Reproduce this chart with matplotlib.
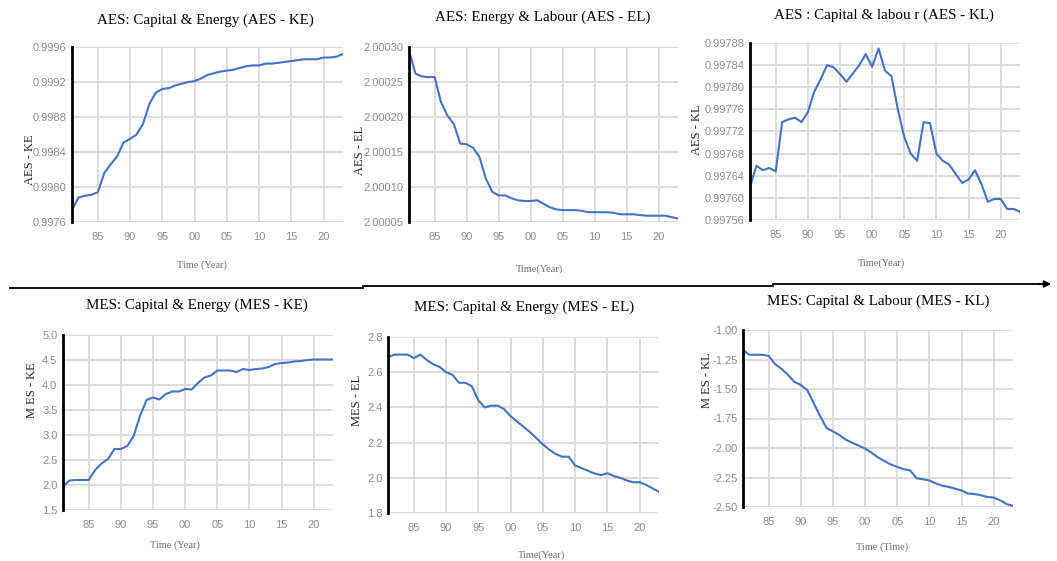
import matplotlib
matplotlib.use("Agg")
import matplotlib.pyplot as plt
from matplotlib.lines import Line2D
from matplotlib.patches import FancyArrowPatch
from matplotlib.ticker import FormatStrFormatter

W, H = 1057, 561

years = list(range(1981, 2024))
xtick_years = [1985, 1990, 1995, 2000, 2005, 2010, 2015, 2020]
xtick_labels = ["85", "90", "95", "00", "05", "10", "15", "20"]

aes_ke = [0.99774, 0.99788, 0.99790, 0.99791, 0.99794, 0.99816, 0.99826, 0.99835, 0.99851, 0.99855,
          0.99860, 0.99872, 0.99895, 0.99908, 0.99912, 0.99913, 0.99916, 0.99918, 0.99920, 0.99921,
          0.99924, 0.99928, 0.99930, 0.99932, 0.99933, 0.99934, 0.99936, 0.99938, 0.99939, 0.99939,
          0.99941, 0.99941, 0.99942, 0.99943, 0.99944, 0.99945, 0.99946, 0.99946, 0.99946, 0.99948,
          0.99948, 0.99949, 0.99952]

aes_el = [2.000295, 2.000262, 2.000258, 2.000257, 2.000257, 2.000221, 2.000202, 2.000190, 2.000162, 2.000161,
          2.000156, 2.000143, 2.000112, 2.000093, 2.000088, 2.000088, 2.000084, 2.000081, 2.000080, 2.000080,
          2.000081, 2.000076, 2.000071, 2.000068, 2.000067, 2.000067, 2.000067, 2.000066, 2.000064, 2.000064,
          2.000064, 2.000064, 2.000063, 2.000061, 2.000061, 2.000061, 2.000060, 2.000059, 2.000059, 2.000059,
          2.000059, 2.000057, 2.000055]

aes_kl = [0.997620, 0.997658, 0.997650, 0.997654, 0.997648, 0.997737, 0.997742, 0.997745, 0.997737, 0.997755,
          0.997792, 0.997815, 0.997840, 0.997836, 0.997824, 0.997810, 0.997825, 0.997840, 0.997860, 0.997837,
          0.997870, 0.997830, 0.997820, 0.997760, 0.997710, 0.997680, 0.997667, 0.997737, 0.997735, 0.997680,
          0.997667, 0.997660, 0.997643, 0.997627, 0.997633, 0.997650, 0.997625, 0.997593, 0.997598, 0.997598,
          0.997580, 0.997580, 0.997575]

mes_ke = [1.97, 2.09, 2.10, 2.10, 2.10, 2.30, 2.43, 2.52, 2.72, 2.72,
          2.78, 2.98, 3.39, 3.70, 3.75, 3.71, 3.82, 3.87, 3.87, 3.92,
          3.91, 4.04, 4.15, 4.19, 4.29, 4.29, 4.29, 4.26, 4.32, 4.30,
          4.32, 4.33, 4.36, 4.42, 4.44, 4.45, 4.47, 4.48, 4.50, 4.51,
          4.51, 4.51, 4.51]

mes_el = [2.685, 2.70, 2.70, 2.70, 2.68, 2.70, 2.67, 2.645, 2.63, 2.60,
          2.585, 2.54, 2.54, 2.52, 2.44, 2.40, 2.41, 2.41, 2.39, 2.35,
          2.32, 2.29, 2.26, 2.225, 2.19, 2.16, 2.135, 2.12, 2.12, 2.07,
          2.055, 2.04, 2.025, 2.015, 2.026, 2.01, 2.00, 1.985, 1.975, 1.975,
          1.96, 1.94, 1.92]

mes_kl = [-1.17, -1.21, -1.21, -1.21, -1.22, -1.29, -1.33, -1.38, -1.44, -1.466,
          -1.51, -1.62, -1.73, -1.83, -1.86, -1.89, -1.93, -1.955, -1.98, -2.005,
          -2.04, -2.08, -2.11, -2.14, -2.16, -2.18, -2.19, -2.257, -2.265, -2.275,
          -2.30, -2.32, -2.33, -2.345, -2.36, -2.386, -2.39, -2.40, -2.415, -2.42,
          -2.443, -2.475, -2.49]

panels = [
    dict(data=aes_ke, title="AES: Capital & Energy (AES - KE)", ylabel="AES - KE", xlabel="Time (Year)",
         yticks=[0.9976, 0.9980, 0.9984, 0.9988, 0.9992, 0.9996], fmt="%.4f",
         box=(72, 343, 47, 222), tpos=(205, 20), ylpos=(30, 160), xlpos=(202, 265)),
    dict(data=aes_el, title="AES: Energy & Labour (AES - EL)", ylabel="AES - EL", xlabel="Time(Year)",
         yticks=[2.00005, 2.00010, 2.00015, 2.00020, 2.00025, 2.00030], fmt="%.5f",
         box=(409, 678, 47, 222), tpos=(543, 17), ylpos=(360, 150), xlpos=(540, 269)),
    dict(data=aes_kl, title="AES : Capital & labou r (AES - KL)", ylabel="AES - KL", xlabel="Time(Year)",
         yticks=[0.99756, 0.99760, 0.99764, 0.99768, 0.99772, 0.99776, 0.99780, 0.99784, 0.99788], fmt="%.5f",
         box=(750, 1020, 43, 220), tpos=(884, 15), ylpos=(697, 130), xlpos=(882, 263)),
    dict(data=mes_ke, title="MES: Capital & Energy (MES - KE)", ylabel="M ES - KE", xlabel="Time (Year)",
         yticks=[1.5, 2.0, 2.5, 3.0, 3.5, 4.0, 4.5, 5.0], fmt="%.1f",
         box=(63, 333, 335, 510), tpos=(197, 305), ylpos=(32, 390), xlpos=(175, 545)),
    dict(data=mes_el, title="MES: Capital & Energy (MES - EL)", ylabel="MES - EL", xlabel="Time(Year)",
         yticks=[1.8, 2.0, 2.2, 2.4, 2.6, 2.8], fmt="%.1f",
         box=(388, 659, 337, 513), tpos=(524, 307), ylpos=(357, 400), xlpos=(542, 555)),
    dict(data=mes_kl, title="MES: Capital & Labour (MES - KL)", ylabel="M ES - KL", xlabel="Time (Time)",
         yticks=[-2.50, -2.25, -2.00, -1.75, -1.50, -1.25, -1.00], fmt="%.2f",
         box=(743, 1013, 330, 507), tpos=(878, 301), ylpos=(707, 380), xlpos=(882, 547)),
]

fig = plt.figure(figsize=(W / 100, H / 100), dpi=100)
fig.patch.set_facecolor("white")

TICK_COLOR = "#8c8c8c"
GRID_COLOR = "#dcdcdc"
LINE_COLOR = "#4472C4"

for p in panels:
    l, r, t, b = p["box"]
    ax = fig.add_axes([l / W, 1 - b / H, (r - l) / W, (b - t) / H])
    ax.plot(years, p["data"], color=LINE_COLOR, lw=1.5, zorder=3)
    ax.set_xlim(1981, 2023)
    ax.set_ylim(p["yticks"][0], p["yticks"][-1])
    ax.set_yticks(p["yticks"])
    ax.yaxis.set_major_formatter(FormatStrFormatter(p["fmt"]))
    ax.set_xticks(xtick_years)
    ax.set_xticklabels(xtick_labels)
    ax.grid(True, color=GRID_COLOR, lw=1.4, zorder=0)
    for s in ["top", "right", "bottom"]:
        ax.spines[s].set_visible(False)
    ax.spines["left"].set_color("black")
    ax.spines["left"].set_linewidth(2)
    ax.spines["left"].set_zorder(4)
    ax.tick_params(length=0, colors=TICK_COLOR, labelsize=8, pad=4)
    for lab in ax.get_xticklabels() + ax.get_yticklabels():
        lab.set_fontfamily("Liberation Sans")
    ax.tick_params(axis="x", pad=7)
    fig.text(p["tpos"][0] / W, 1 - p["tpos"][1] / H, p["title"], ha="center", va="center",
             fontsize=10.8, family="Liberation Serif", color="black")
    fig.text(p["ylpos"][0] / W, 1 - p["ylpos"][1] / H, p["ylabel"], ha="center", va="center",
             rotation=90, fontsize=9, family="Liberation Serif", color="#222222")
    fig.text(p["xlpos"][0] / W, 1 - p["xlpos"][1] / H, p["xlabel"], ha="center", va="center",
             fontsize=7.5, family="Liberation Serif", color="#6e6e6e")


def fx(x):
    return x / W


def fy(y):
    return 1 - y / H


fig.add_artist(Line2D([fx(10), fx(363)], [fy(288), fy(288)], color="black", lw=1.3))
fig.add_artist(Line2D([fx(363), fx(773)], [fy(285.5), fy(285.5)], color="black", lw=1.3))
fig.add_artist(Line2D([fx(773), fx(1046)], [fy(284), fy(284)], color="black", lw=1.3))
arr = FancyArrowPatch((fx(1035), fy(284)), (fx(1054), fy(284)), transform=fig.transFigure,
                      arrowstyle="-|>", mutation_scale=10, color="black", lw=1.3)
fig.add_artist(arr)

fig.savefig("out.png", dpi=100, facecolor="white")
